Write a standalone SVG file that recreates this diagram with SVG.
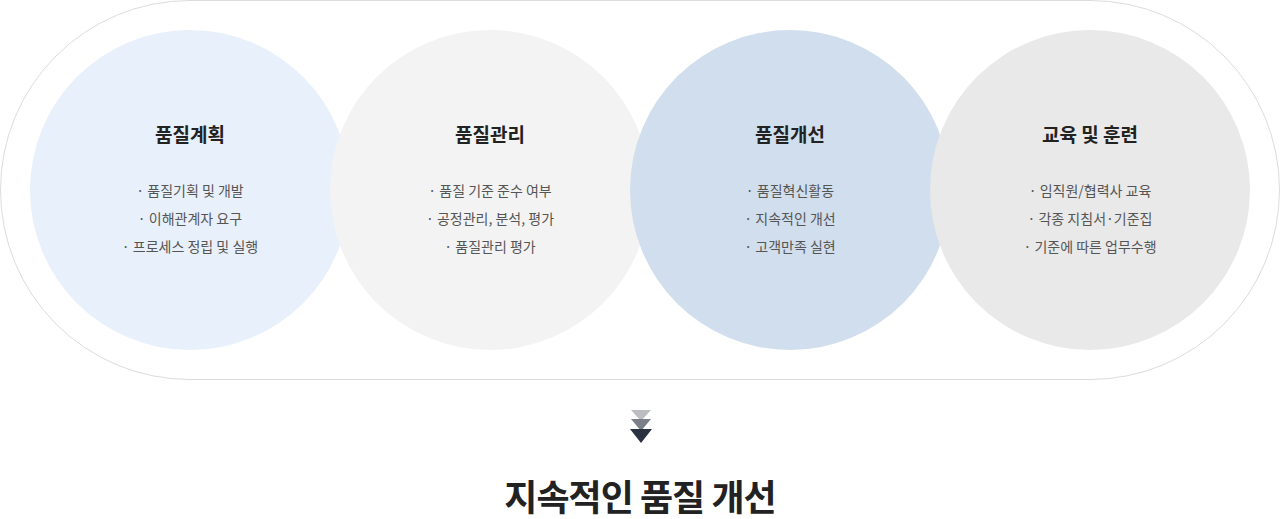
<svg xmlns="http://www.w3.org/2000/svg" width="1280" height="519" viewBox="0 0 1280 519">
<style>
.t{font-family:"Noto Sans CJK KR","Noto Sans",sans-serif;font-size:19px;font-weight:700;fill:#222;text-anchor:middle}
.b{font-family:"Noto Sans CJK KR","Noto Sans",sans-serif;font-size:14px;fill:#555;text-anchor:middle}
.m{font-family:"Noto Sans CJK KR","Noto Sans",sans-serif;font-size:36px;font-weight:700;fill:#222;text-anchor:middle;letter-spacing:-1px}
</style>
<rect x="0.5" y="0.5" width="1279" height="379" rx="189.5" fill="#fff" stroke="#dcdcdc"/>
<g id="n1">
<circle cx="190" cy="190" r="160" fill="#e8f0fb"/>
<text class="t" x="190" y="142">품질계획</text>
<text class="b" x="190" y="196">· 품질기획 및 개발</text>
<text class="b" x="190" y="224">· 이해관계자 요구</text>
<text class="b" x="190" y="252">· 프로세스 정립 및 실행</text>
</g>
<g id="n2">
<circle cx="490" cy="190" r="160" fill="#f3f3f3"/>
<text class="t" x="490" y="142">품질관리</text>
<text class="b" x="490" y="196">· 품질 기준 준수 여부</text>
<text class="b" x="490" y="224">· 공정관리, 분석, 평가</text>
<text class="b" x="490" y="252">· 품질관리 평가</text>
</g>
<g id="n3">
<circle cx="790" cy="190" r="160" fill="#d0deed"/>
<text class="t" x="790" y="142">품질개선</text>
<text class="b" x="790" y="196">· 품질혁신활동</text>
<text class="b" x="790" y="224">· 지속적인 개선</text>
<text class="b" x="790" y="252">· 고객만족 실현</text>
</g>
<g id="n4">
<circle cx="1090" cy="190" r="160" fill="#e9e9e9"/>
<text class="t" x="1090" y="142">교육 및 훈련</text>
<text class="b" x="1090" y="196">· 임직원/협력사 교육</text>
<text class="b" x="1090" y="224">· 각종 지침서·기준집</text>
<text class="b" x="1090" y="252">· 기준에 따른 업무수행</text>
</g>
<g id="connectors">
<polygon points="631,410 651,410 641,421" fill="#bcbdc0"/>
<polygon points="631,419 651,419 641,431" fill="#7b7f87"/>
<polygon points="630,429 652,429 641,443" fill="#2a3141"/>
</g>
<g id="result">
<text class="m" x="640" y="511">지속적인 품질 개선</text>
</g>
</svg>
